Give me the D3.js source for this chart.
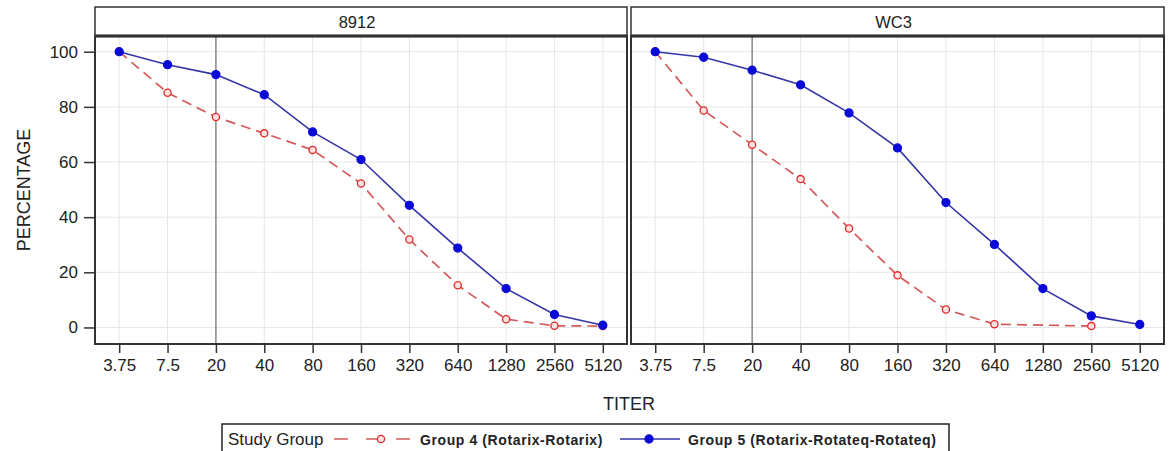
<!DOCTYPE html>
<html>
<head>
<meta charset="utf-8">
<script src="https://cdn.jsdelivr.net/npm/d3@7"></script>
<style>
  body { margin: 0; background: #fff; }
  text { font-family: "Liberation Sans", Arial, sans-serif; fill: #222; }
</style>
</head>
<body>
<svg id="chart" width="1172" height="451"></svg>
<script>
var titers = ["3.75", "7.5", "20", "40", "80", "160", "320", "640", "1280", "2560", "5120"];
var yTicks = [0, 20, 40, 60, 80, 100];
var panels = ["8912", "WC3"];
var groups = ["Group 4 (Rotarix-Rotarix)", "Group 5 (Rotarix-Rotateq-Rotateq)"];

// null = no value at that titer
var g4_8912 = [100, 85.1, 76.3, 70.4, 64.4, 52.2, 31.9, 15.3, 3.0, 0.6, 0.5];
var g5_8912 = [100, 95.3, 91.7, 84.4, 70.9, 60.9, 44.3, 28.8, 14.1, 4.7, 0.8];
var g4_wc3 = [100, 78.7, 66.3, 53.8, 35.9, 18.9, 6.5, 1.2, null, 0.5, null];
var g5_wc3 = [100, 98.0, 93.3, 88.0, 77.8, 65.1, 45.3, 30.1, 14.1, 4.2, 1.1];

var panelData = [
  { name: panels[0], series: [g4_8912, g5_8912] },
  { name: panels[1], series: [g4_wc3, g5_wc3] }
];

var svg = d3.select("#chart");
var stripTop = 7, plotTop = 36, plotBottom = 344;
var panelX = [[95, 627], [631, 1164]];

var y = d3.scaleLinear().domain([-6, 105.7]).range([plotBottom, plotTop]);

var styles = [
  { line: "#d45a5a", dash: "10,6", marker: "open", mstroke: "#e02b2b", mfill: "#fde0e0", width: 1.7 },
  { line: "#3535a8", dash: null, marker: "filled", mstroke: "#0a0ad8", mfill: "#0a0ad8", width: 1.6 }
];

panelData.forEach(function (p, i) {
  var x0 = panelX[i][0], x1 = panelX[i][1];
  var x = d3.scalePoint().domain(titers).range([x0, x1]).padding(0.5);
  var g = svg.append("g");

  // grid
  g.selectAll(".gx").data(titers).enter().append("line")
    .attr("x1", function (d) { return x(d); }).attr("x2", function (d) { return x(d); })
    .attr("y1", plotTop).attr("y2", plotBottom)
    .attr("stroke", "#e6e6e6").attr("stroke-width", 1);
  g.selectAll(".gy").data(yTicks).enter().append("line")
    .attr("x1", x0).attr("x2", x1)
    .attr("y1", function (d) { return y(d); }).attr("y2", function (d) { return y(d); })
    .attr("stroke", "#e6e6e6").attr("stroke-width", 1);

  // reference line at 20
  g.append("line")
    .attr("x1", x("20")).attr("x2", x("20"))
    .attr("y1", plotTop).attr("y2", plotBottom)
    .attr("stroke", "#707070").attr("stroke-width", 1.2);

  // series
  p.series.forEach(function (vals, s) {
    var st = styles[s];
    var pts = titers.map(function (t, k) { return { t: t, v: vals[k] }; })
      .filter(function (d) { return d.v !== null; });
    var line = d3.line().x(function (d) { return x(d.t); }).y(function (d) { return y(d.v); });
    g.append("path").datum(pts)
      .attr("d", line).attr("fill", "none")
      .attr("stroke", st.line).attr("stroke-width", st.width)
      .attr("stroke-dasharray", st.dash);
    g.selectAll(".m" + s).data(pts).enter().append("circle")
      .attr("cx", function (d) { return x(d.t); })
      .attr("cy", function (d) { return y(d.v); })
      .attr("r", st.marker === "open" ? 3.6 : 4)
      .attr("fill", st.mfill).attr("stroke", st.mstroke).attr("stroke-width", 1.3);
  });

  // x axis
  var xa = g.append("g").attr("transform", "translate(0," + plotBottom + ")")
    .call(d3.axisBottom(x).tickSize(9).tickPadding(6));
  xa.select(".domain").remove();
  xa.selectAll("line").attr("stroke", "#333").attr("stroke-width", 1.5);
  xa.selectAll("text").attr("font-size", 17).attr("fill", "#222")
    .attr("font-family", "Liberation Sans, Arial, sans-serif");

  // strip
  g.append("rect").attr("x", x0).attr("y", stripTop).attr("width", x1 - x0).attr("height", plotTop - stripTop)
    .attr("fill", "#fff").attr("stroke", "#333").attr("stroke-width", 1.5);
  g.append("text").attr("x", (x0 + x1) / 2 - 4).attr("y", stripTop + 21)
    .attr("text-anchor", "middle").attr("font-size", 16.5).text(p.name);
  g.append("line").attr("x1", x0).attr("x2", x1).attr("y1", plotTop).attr("y2", plotTop)
    .attr("stroke", "#111").attr("stroke-width", 3);

  // plot border
  g.append("rect").attr("x", x0).attr("y", plotTop).attr("width", x1 - x0).attr("height", plotBottom - plotTop)
    .attr("fill", "none").attr("stroke", "#333").attr("stroke-width", 2);
});

// y axis
var ya = svg.append("g").attr("transform", "translate(" + panelX[0][0] + ",0)")
  .call(d3.axisLeft(y).tickValues(yTicks).tickSize(11).tickPadding(6));
ya.select(".domain").remove();
ya.selectAll("line").attr("stroke", "#333").attr("stroke-width", 1.5);
ya.selectAll("text").attr("font-size", 17).attr("fill", "#222")
  .attr("font-family", "Liberation Sans, Arial, sans-serif");

// axis titles
svg.append("text").attr("transform", "translate(30,190) rotate(-90)")
  .attr("text-anchor", "middle").attr("font-size", 18).text("PERCENTAGE");
svg.append("text").attr("x", 629).attr("y", 410)
  .attr("text-anchor", "middle").attr("font-size", 18).text("TITER");

// legend
var lg = svg.append("g");
lg.append("rect").attr("x", 222).attr("y", 424).attr("width", 727).attr("height", 34)
  .attr("fill", "#fff").attr("stroke", "#222").attr("stroke-width", 1.5);
lg.append("text").attr("x", 228).attr("y", 445).attr("font-size", 17).text("Study Group");

var legendItems = [
  { x1: 334, x2: 412, mx: 381, tx: 420 },
  { x1: 620, x2: 680, mx: 649, tx: 688 }
];
legendItems.forEach(function (it, s) {
  var st = styles[s];
  lg.append("line").attr("x1", it.x1).attr("x2", it.x2).attr("y1", 439).attr("y2", 439)
    .attr("stroke", st.line).attr("stroke-width", st.width)
    .attr("stroke-dasharray", s === 0 ? "14,18,14,16" : null);
  lg.append("circle").attr("cx", it.mx).attr("cy", 439).attr("r", st.marker === "open" ? 3.6 : 4)
    .attr("fill", st.mfill).attr("stroke", st.mstroke).attr("stroke-width", 1.3);
  lg.append("text").attr("x", it.tx).attr("y", 444.5).attr("font-size", 14)
    .attr("font-weight", "bold").attr("letter-spacing", "0.6px").attr("fill", "#333")
    .text(groups[s]);
});
</script>
</body>
</html>
